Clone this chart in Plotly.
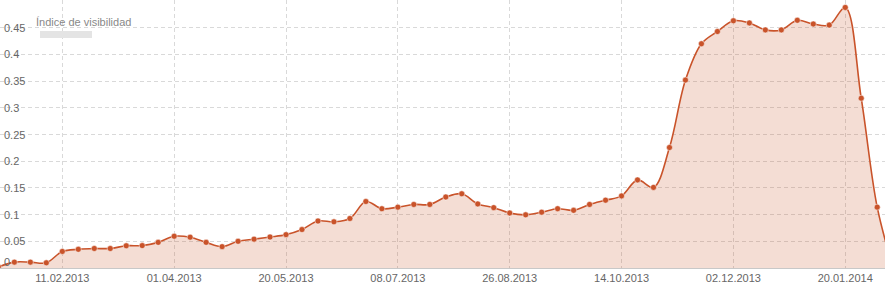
import plotly.graph_objects as go
import pandas as pd

# weekly dates (Mondays)
dates = pd.date_range("2013-01-14", "2014-02-10", freq="7D")
values = [
    0.002, 0.011, 0.011, 0.0097, 0.031, 0.035, 0.0365, 0.0365, 0.0416, 0.042,
    0.048, 0.0595, 0.0577, 0.048, 0.040, 0.050, 0.054, 0.058, 0.0625, 0.072,
    0.088, 0.0865, 0.0927, 0.1245, 0.111, 0.114, 0.119, 0.119, 0.133, 0.139,
    0.120, 0.113, 0.103, 0.0996, 0.1045, 0.111, 0.108, 0.119, 0.127, 0.135,
    0.165, 0.151, 0.2257, 0.352, 0.420, 0.443, 0.463, 0.459, 0.446, 0.446,
    0.464, 0.457, 0.455, 0.488, 0.318, 0.114, 0.0,
]
x_ticks = ["2013-02-11", "2013-04-01", "2013-05-20", "2013-07-08",
           "2013-08-26", "2013-10-14", "2013-12-02", "2014-01-20"]
x_tick_labels = ["11.02.2013", "01.04.2013", "20.05.2013", "08.07.2013",
                 "26.08.2013", "14.10.2013", "02.12.2013", "20.01.2014"]
y_ticks = [0, 0.05, 0.1, 0.15, 0.2, 0.25, 0.3, 0.35, 0.4, 0.45]
y_tick_labels = ["0", "0.05", "0.1", "0.15", "0.2", "0.25", "0.3", "0.35", "0.4", "0.45"]
series_name = "Índice de visibilidad"

LINE = "#c9532a"
FONT = "Liberation Sans"

fig = go.Figure()
fig.add_trace(go.Scatter(
    x=dates, y=values, mode="lines+markers", name=series_name,
    line=dict(color=LINE, width=1.6, shape="spline", smoothing=1),
    marker=dict(color=LINE, size=6, line=dict(color="white", width=0.5)),
    fill="tozeroy", fillcolor="rgba(201,83,42,0.2)",
    showlegend=False, hoverinfo="x+y",
))

for v, t in zip(y_ticks, y_tick_labels):
    fig.add_annotation(
        x=0, xref="paper", y=v, yref="y", text=t, showarrow=False,
        xanchor="left", yanchor="middle", xshift=2, yshift=6 if v == 0 else 0,
        font=dict(family=FONT, size=11, color="#666"),
    )

fig.add_annotation(
    x=0, xref="paper", y=1, yref="paper", text=series_name, showarrow=False,
    xanchor="left", yanchor="middle", xshift=34, yshift=-22,
    font=dict(family=FONT, size=11, color="#888"),
)
fig.add_shape(type="rect", xref="paper", yref="paper",
              x0=40 / 885, x1=92 / 885, y0=1 - 38 / 268, y1=1 - 31 / 268,
              fillcolor="#e4e4e4", line=dict(width=0), layer="above")

fig.update_layout(
    width=885, height=286,
    margin=dict(l=0, r=0, t=0, b=18),
    paper_bgcolor="white", plot_bgcolor="white",
    font=dict(family=FONT, size=11, color="#666"),
    xaxis=dict(
        type="date",
        range=["2013-01-14 16:48", "2014-02-06 10:00"],
        tickvals=x_ticks, ticktext=x_tick_labels,
        showgrid=True, gridcolor="#d9d9d9", griddash="4px,3px", gridwidth=1,
        showline=True, linecolor="#c8c8c8", linewidth=1,
        ticks="", zeroline=False,
        tickfont=dict(family=FONT, size=11, color="#666"),
    ),
    yaxis=dict(
        range=[0, 0.502],
        tickvals=y_ticks[1:], showticklabels=False,
        showgrid=True, gridcolor="#d9d9d9", griddash="4px,3px", gridwidth=1,
        zeroline=False, showline=False, ticks="",
    ),
)

fig.write_html("out.html")
